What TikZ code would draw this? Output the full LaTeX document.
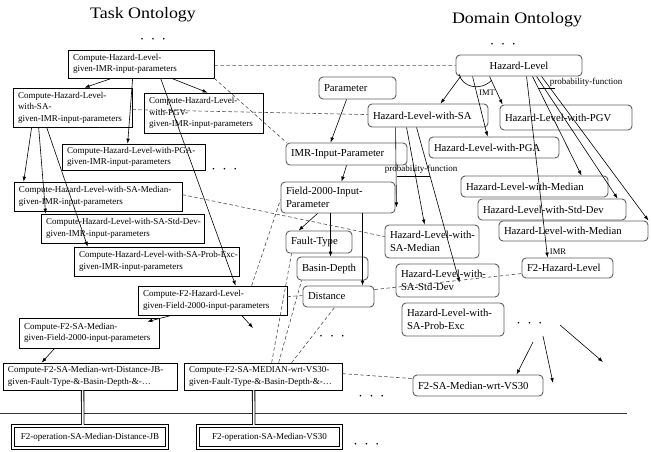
\documentclass[tikz,border=0pt]{standalone}
\usepackage{fontspec}
\setmainfont{Liberation Serif}
\usetikzlibrary{arrows.meta,calc}
\definecolor{obgray}{RGB}{95,95,95}
\begin{document}
\begin{tikzpicture}[x=1pt,y=-1pt,
  tb/.style n args={3}{draw=black, line width=0.7pt, align=left,
    font=\fontsize{9}{11.5}\selectfont, inner xsep=5pt, inner ysep=0pt,
    minimum width=#1pt, minimum height=#2pt, text width=#3pt,
    execute at begin node={\exhyphenpenalty=10000\hyphenpenalty=10000\relax}},
  opbox/.style n args={2}{font=\fontsize{9}{11.5}\selectfont, inner sep=0pt,
    minimum width=#1pt, minimum height=#2pt},
  opline/.style={draw=black, line width=0.7pt},
  ob/.style n args={3}{draw=obgray, line width=0.9pt, rounded corners=4pt, align=left,
    font=\fontsize{10.7}{12.5}\selectfont, inner xsep=5pt, inner ysep=0pt,
    minimum width=#1pt, minimum height=#2pt, text width=#3pt,
    execute at begin node={\exhyphenpenalty=10000\hyphenpenalty=10000\relax}},
  arr/.style={draw=black, line width=0.6pt, -{Latex[length=5pt,width=3.6pt]}},
  dsh/.style={draw=black!70, line width=0.6pt, dash pattern=on 3.5pt off 2.5pt},
  ln/.style={draw=black, line width=0.6pt},
  dbl/.style={draw=black, line width=0.9pt, double, double distance=1.6pt},
  lbl/.style={font=\fontsize{9}{10}\selectfont, inner sep=0pt},
  dotrow/.style={font=\fontsize{7}{8}\selectfont, inner sep=0pt},
  ttl/.style={font=\fontsize{16}{18}\selectfont, inner sep=0pt}
]
\useasboundingbox (0,0) rectangle (651,451);

% titles
\node[ttl] (t1) at (143,15) {\scalebox{1.12}[1]{Task Ontology}};
\node[ttl] (t2) at (517,20) {\scalebox{1.12}[1]{Domain Ontology}};

% dots
\node[dotrow] (ds1) at (153,40) {\textbullet\hspace{8.5pt}\textbullet\hspace{8.5pt}\textbullet};
\node[dotrow] (ds2) at (503,45) {\textbullet\hspace{8.5pt}\textbullet\hspace{8.5pt}\textbullet};
\node[dotrow] (ds3) at (224.5,170) {\textbullet\hspace{8.5pt}\textbullet\hspace{8.5pt}\textbullet};
\node[dotrow] (ds4) at (332,337) {\textbullet\hspace{8.5pt}\textbullet\hspace{8.5pt}\textbullet};
\node[dotrow] (ds5) at (529.5,324) {\textbullet\hspace{8.5pt}\textbullet\hspace{8.5pt}\textbullet};
\node[dotrow] (ds6) at (371.5,397) {\textbullet\hspace{8.5pt}\textbullet\hspace{8.5pt}\textbullet};
\node[dotrow] (ds7) at (366.5,445) {\textbullet\hspace{8.5pt}\textbullet\hspace{8.5pt}\textbullet};

% task ontology boxes
\node[tb={146}{28}{136}] (A) at (141,64) {Compute-Hazard-Level-\\given-IMR-input-parameters};
\node[tb={119}{39}{109}] (B) at (72.5,107.5) {Compute-Hazard-Level-\\with-SA-\\given-IMR-input-parameters};
\node[tb={119}{40}{109}] (C) at (203.5,113) {Compute-Hazard-Level-\\with-PGV-\\given-IMR-input-parameters};
\node[tb={143}{26}{133}] (D) at (133.5,157) {Compute-Hazard-Level-with-PGA-\\given-IMR-input-parameters};
\node[tb={168}{29}{158}] (E) at (98,196.5) {Compute-Hazard-Level-with-SA-Median-\\given-IMR-input-parameters};
\node[tb={163}{29}{153}] (F) at (122.5,228.5) {Compute-Hazard-Level-with-SA-Std-Dev-\\given-IMR-input-parameters};
\node[tb={165}{29}{155}] (G) at (156.5,261.5) {Compute-Hazard-Level-with-SA-Prob-Exc-\\given-IMR-input-parameters};
\node[tb={149}{29}{139}] (H) at (212.5,300.5) {Compute-F2-Hazard-Level-\\given-Field-2000-input-parameters};
\node[tb={140}{30}{130}] (I) at (89,333) {Compute-F2-SA-Median-\\given-Field-2000-input-parameters};
\node[tb={174}{27}{164}] (J) at (90,376.5) {Compute-F2-SA-Median-wrt-Distance-JB-\\given-Fault-Type-\&-Basin-Depth-\&-\ldots};
\node[tb={158}{27}{148}] (K) at (263,376.5) {Compute-F2-SA-MEDIAN-wrt-VS30-\\given-Fault-Type-\&-Basin-Depth-\&-\ldots};
\node[opbox={156}{24}] (L) at (90,437) {F2-operation-SA-Median-Distance-JB};
\node[opbox={145}{24}] (M) at (269.5,437) {F2-operation-SA-Median-VS30};
\draw[opline] (L.north west) rectangle (L.south east);
\draw[opline] ($(L.north west)+(2.5,2.5)$) rectangle ($(L.south east)+(-2.5,-2.5)$);
\draw[opline] (M.north west) rectangle (M.south east);
\draw[opline] ($(M.north west)+(2.5,2.5)$) rectangle ($(M.south east)+(-2.5,-2.5)$);

% domain ontology boxes
\node[ob={126}{21}{116}, align=center] (N1) at (519,65.5) {Hazard-Level};
\node[ob={77}{22}{67}] (N2) at (357.5,88) {Parameter};
\node[ob={120}{23}{110}] (N3) at (428,115.5) {Hazard-Level-with-SA};
\node[ob={132}{25}{122}] (N4) at (566,117.5) {Hazard-Level-with-PGV};
\node[ob={130}{21}{120}] (N5) at (494,147.5) {Hazard-Level-with-PGA};
\node[ob={121}{22}{111}] (N6) at (346.5,154) {IMR-Input-Parameter};
\node[ob={114}{31}{104}] (N7) at (338,197.5) {Field-2000-Input-\\Parameter};
\node[ob={66}{22}{56}] (N8) at (319,242) {Fault-Type};
\node[ob={71}{23}{61}] (N9) at (332.5,268.5) {Basin-Depth};
\node[ob={71}{21}{61}] (N10) at (338.5,296.5) {Distance};
\node[ob={94}{33}{84}] (N11) at (432,241.5) {Hazard-Level-with-\\SA-Median};
\node[ob={103}{33}{93}] (N12) at (447.5,280.5) {Hazard-Level-with-\\SA-Std-Dev};
\node[ob={102}{33}{92}] (N13) at (453,319.5) {Hazard-Level-with-\\SA-Prob-Exc};
\node[ob={91}{20}{81}] (N14) at (567.5,268) {F2-Hazard-Level};
\node[ob={147}{21}{137}] (N15) at (534.5,186.5) {Hazard-Level-with-Median};
\node[ob={148}{21}{138}] (N16) at (552,209.5) {Hazard-Level-with-Std-Dev};
\node[ob={149}{20}{139}] (N17) at (573.5,231) {Hazard-Level-with-Median};
\node[ob={130}{21}{120}] (N18) at (478,385.5) {F2-SA-Median-wrt-VS30};

% separator line
\draw[draw=black!80, line width=0.6pt] (0,413) -- (627,413);

% task ontology arrows
\draw[arr] ($(A.south west)+(44,0)$) -- ($(B.north west)+(72,0)$);
\draw[arr] ($(A.south west)+(65,0)$) -- ($(D.north west)+(66,0)$);
\draw[arr] ($(A.south west)+(104,0)$) -- ($(C.north west)+(64,0)$);
\draw[arr] ($(A.south west)+(93,0)$) -- ($(H.north west)+(98,0)$);
\draw[arr] ($(B.south west)+(19,0)$) -- ($(E.north west)+(10,0)$);
\draw[arr] ($(B.south west)+(26,0)$) -- ($(F.north west)+(5,0)$);
\draw[arr] ($(B.south west)+(34,0)$) -- ($(G.north west)+(14,0)$);
\draw[arr] ($(H.south west)+(34,0)$) -- ($(I.north east)+(-12,4)$);
\coordinate (f1) at (253,328);
\draw[arr] ($(H.south west)+(104,0)$) -- (f1);
\draw[arr] ($(I.south west)+(36,0)$) -- ($(J.north west)+(39,0)$);
\draw[dbl] ($(J.south west)+(80,0)$) -- ($(L.north west)+(71,0)$);
\draw[dbl] ($(K.south west)+(70,0)$) -- ($(M.north west)+(57,0)$);

% domain ontology arrows
\draw[arr] ($(N2.south west)+(28,0)$) -- ($(N6.north west)+(45,0)$);
\draw[arr] ($(N6.south west)+(61,0)$) -- ($(N7.north west)+(61,0)$);
\draw[arr] ($(N7.south west)+(37,0)$) -- ($(N8.north west)+(13,0)$);
\draw[arr] ($(N7.south west)+(50,0)$) -- ($(N9.north west)+(34,0)$);
\draw[arr] ($(N7.south west)+(82,0)$) -- ($(N10.north west)+(60,0)$);
\draw[arr] ($(N1.south west)+(5,0)$) -- ($(N3.north west)+(73,0)$);
\draw[arr] ($(N1.south west)+(17,0)$) -- ($(N5.north west)+(59,0)$);
\draw[arr] ($(N1.south west)+(34,0)$) -- ($(N4.north west)+(3,0)$);
\draw[arr] ($(N1.south west)+(71,0)$) -- ($(N14.north west)+(26,0)$);
\draw[arr] ($(N1.south west)+(77,0)$) -- ($(N15.north west)+(121,0)$);
\draw[arr] ($(N1.south west)+(81,0)$) -- ($(N16.north west)+(140,0)$);
\draw[arr] ($(N1.south west)+(86,0)$) -- (N17.north east);
\draw[arr] ($(N3.south west)+(28,0)$) -- ($(N7.south east)+(1,-6)$);
\draw[arr] ($(N3.south west)+(39,0)$) -- ($(N11.north west)+(40,0)$);
\draw[arr] ($(N3.south west)+(49,0)$) -- ($(N12.north west)+(64,19)$);

% generalization markers and labels
\draw[ln] (397,176) -- (430,176);
\node[lbl] (pf1) at (421,169) {probability-function};
\draw[ln] (538,88) -- (555,88);
\node[lbl] (pf2) at (586,82) {probability-function};
\draw[ln] (459,74) .. controls (462,87) and (480,92) .. (492,80);
\node[lbl, font=\fontsize{8.5}{9}\selectfont] (imt) at (487,93) {IMT};
\node[lbl, font=\fontsize{8.5}{9}\selectfont] (imr) at (558,252) {IMR};

% arrows from the dots
\coordinate (p1) at (533,342);
\coordinate (p2) at (543,336);
\coordinate (p3) at (560,325);
\coordinate (q2) at (553,383);
\coordinate (q3) at (603,362);
\draw[arr] (p1) -- ($(N18.north west)+(104,0)$);
\draw[arr] (p2) -- (q2);
\draw[arr] (p3) -- (q3);

% dashed cross-ontology links
\draw[dsh] ($(A.north east)+(0,16)$) -- ($(N1.north west)+(0,11)$);
\draw[dsh] ($(B.north east)+(0,22)$) -- ($(N3.north west)+(0,11)$);
\draw[dsh] (A.south east) -- ($(N6.north west)+(1,0)$);
\draw[dsh] ($(E.north east)+(0,13)$) -- ($(N11.north west)+(0,12)$);
\draw[dsh] ($(H.north west)+(114,0)$) -- ($(N7.north west)+(0,18)$);
\draw[dsh] ($(K.north west)+(88,0)$) -- ($(N8.south west)+(6,0)$);
\draw[dsh] ($(K.north west)+(95,0)$) -- ($(N9.south west)+(5,0)$);
\draw[dsh] ($(K.north west)+(108,0)$) -- ($(N10.south west)+(32,0)$);
\draw[dsh] ($(H.north east)+(0,11)$) -- ($(N10.north west)+(0,10)$);
\draw[dsh] ($(K.north east)+(0,11)$) -- ($(N18.north west)+(0,4)$);
\draw[dsh] ($(N10.north east)+(0,4)$) -- ($(N14.north west)+(0,16)$);
\end{tikzpicture}
\end{document}
